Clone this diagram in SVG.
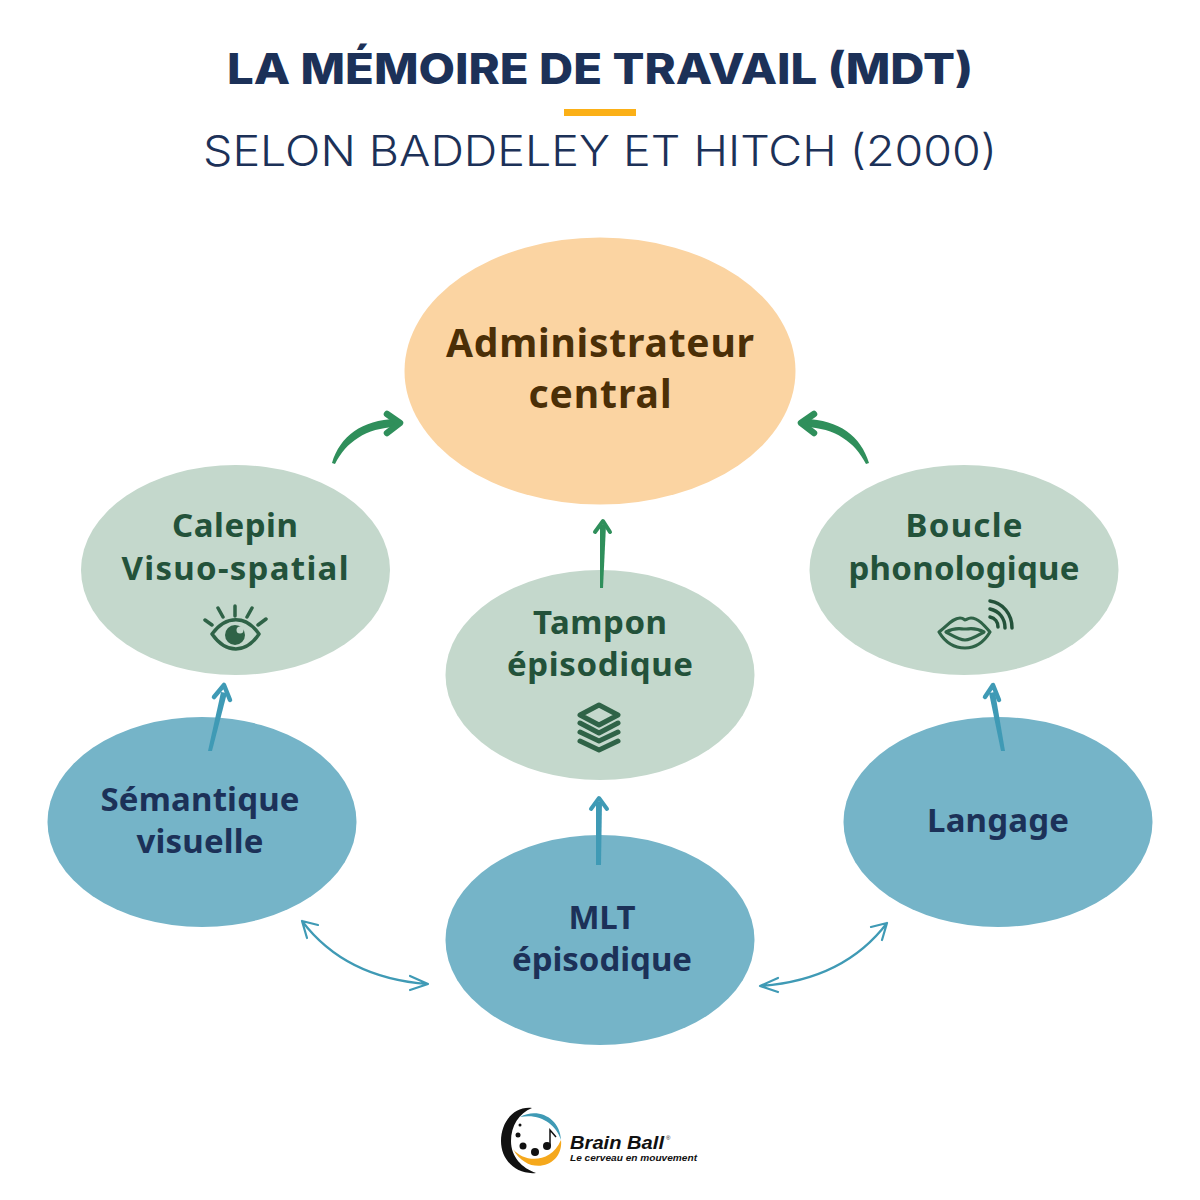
<svg xmlns="http://www.w3.org/2000/svg" width="1200" height="1200" viewBox="0 0 1200 1200">
<style>
.t{font-family:"Inter","Liberation Sans",sans-serif;fill:#1c3158;text-anchor:middle}
.n{font-family:"Noto Sans","Liberation Sans",sans-serif;font-weight:700;font-size:33px;text-anchor:middle}
.g{fill:#c4d8cc}.gt{fill:#23523a}
.b{fill:#75b4c8}.bt{fill:#1c3158}
.ic{fill:none;stroke:#2f6347;stroke-linecap:round;stroke-linejoin:round}
.ga{fill:none;stroke:#2f8f5b;stroke-linecap:round;stroke-linejoin:round}
.gf{fill:#2f8f5b}
.ba{fill:none;stroke:#3f9ab5;stroke-linecap:round;stroke-linejoin:round}
.bf{fill:#3f9ab5}
.l{font-family:"Liberation Sans",sans-serif;font-style:italic;font-weight:700;fill:#111}
</style>
<rect width="1200" height="1200" fill="#fff"/>
<g id="title">
<text class="t" x="600" y="84" font-size="42" font-weight="800" textLength="746" lengthAdjust="spacingAndGlyphs">LA MÉMOIRE DE TRAVAIL (MDT)</text>
<rect x="564" y="109" width="72" height="7" fill="#fbb017"/>
<text class="t" x="600" y="166" font-size="42" font-weight="300" textLength="794" lengthAdjust="spacingAndGlyphs">SELON BADDELEY ET HITCH (2000)</text>
</g>
<g id="admin"><ellipse cx="600" cy="371" rx="195.500" ry="133.500" fill="#fbd4a2"/>
<text class="n" x="600" y="357" fill="#4b2f07" style="font-size:39px" textLength="308">Administrateur</text>
<text class="n" x="600" y="408" fill="#4b2f07" style="font-size:39px" textLength="143">central</text></g>
<g id="calepin"><ellipse class="g" cx="235.500" cy="570" rx="154.500" ry="105"/>
<text class="n gt" x="235" y="537" textLength="126">Calepin</text>
<text class="n gt" x="235" y="580" textLength="227">Visuo-spatial</text>
<path class="ic" stroke-width="3.500" d="M212 634C226 615 246 615 259 634C246 654 226 654 212 634Z"/>
<circle cx="235" cy="635" r="10" fill="#2f6347"/><circle cx="240" cy="630" r="3.500" fill="#c4d8cc"/>
<path class="ic" stroke-width="3.500" d="M205 620L212 625M218 608L223 617M235 606V616M252 608L247 617M266 619L258 625"/></g>
<g id="boucle"><ellipse class="g" cx="964" cy="570" rx="154.500" ry="105"/>
<text class="n gt" x="964" y="537" textLength="117">Boucle</text>
<text class="n gt" x="964" y="580" textLength="231">phonologique</text>
<path class="ic" stroke-width="3.200" d="M939 632C948 625 953 618 960 618C964 618 964 620 965 620C966 620 968 618 971 618C978 618 984 625 990 632C984 642 975 648 965 648C954 648 945 642 939 632Z"/>
<path class="ic" stroke-width="3.200" d="M946 632C955 627 960 629 965 629C970 629 975 627 984 632C975 637 970 640 965 640C960 640 955 637 946 632Z"/>
<path fill="none" stroke="#23523a" stroke-linecap="round" stroke-width="3.500" d="M990 617C995 618 998 622 998 627M990 609C999 611 1005 618 1005 628M990 601C1003 603 1012 614 1012 628"/></g>
<g id="tampon"><ellipse class="g" cx="600" cy="675" rx="154.500" ry="105"/>
<text class="n gt" x="600" y="634" textLength="134">Tampon</text>
<text class="n gt" x="600" y="676" textLength="186">épisodique</text>
<path class="ic" stroke-width="5" d="M599 705L618 715L599 725L580 715Z"/>
<path class="ic" stroke-width="5" d="M580 723L599 733L618 723M580 732L599 741L618 732M580 741L599 750L618 741"/></g>
<g id="semantique"><ellipse class="b" cx="202" cy="822" rx="154.500" ry="105"/>
<text class="n bt" x="200" y="811" textLength="199">Sémantique</text>
<text class="n bt" x="200" y="853" textLength="127">visuelle</text></g>
<g id="langage"><ellipse class="b" cx="998" cy="822" rx="154.500" ry="105"/>
<text class="n bt" x="998" y="832" textLength="142">Langage</text></g>
<g id="mlt"><ellipse class="b" cx="600" cy="940" rx="154.500" ry="105"/>
<text class="n bt" x="602" y="929" textLength="67">MLT</text>
<text class="n bt" x="602" y="971" textLength="180">épisodique</text></g>
<g id="connectors">
<path class="gf" d="M332 463C340 436 362 420 396 419L396 427C366 428 346 442 335 464Z"/>
<path class="ga" stroke-width="6.500" d="M387 414L400 423L387 433"/>
<path class="gf" d="M869 463C861 436 839 420 805 419L805 427C835 428 855 442 866 464Z"/>
<path class="ga" stroke-width="6.500" d="M814 414L801 423L814 433"/>
<path class="gf" d="M600 588L600 525L606 525L603 588Z"/>
<path class="ga" stroke-width="4" d="M595 532L603 521L610 532"/>
<path class="bf" d="M208 751L221 692L227 693L212 751Z"/>
<path class="ba" stroke-width="4.500" d="M214 697L224 685L230 700"/>
<path class="bf" d="M1005 751L995 692L989 693L1001 751Z"/>
<path class="ba" stroke-width="4.500" d="M999 700L993 685L985 697"/>
<path class="bf" d="M596 865L596 802L602 802L601 865Z"/>
<path class="ba" stroke-width="4" d="M591 809L599 798L607 809"/>
<path class="ba" stroke-width="2.200" d="M302 921C330 958 372 980 428 984M318 925L302 921L307 938M410 976L428 984L410 990"/>
<path class="ba" stroke-width="2.200" d="M887 923C859 960 817 982 760 986M871 927L887 923L882 940M778 978L760 986L778 992"/>
</g>
<g id="logo">
<path fill="#111" d="M532 1108C513 1106 501 1123 501 1141C501 1160 516 1175 536 1173C522 1168 511 1157 511 1141C511 1126 519 1113 532 1108Z"/>
<path fill="#3f9ab5" d="M520 1117C538 1107 560 1118 561 1140C556 1124 540 1113 520 1117Z"/>
<path fill="#f5a81c" d="M513 1149C523 1162 550 1165 561 1140C564 1166 529 1178 513 1149Z"/>
<circle cx="520" cy="1125" r="1.500" fill="#111"/><circle cx="518" cy="1135" r="2.500" fill="#111"/><circle cx="523" cy="1146" r="3.500" fill="#111"/><circle cx="535" cy="1152" r="4" fill="#111"/><circle cx="547" cy="1146" r="4" fill="#111"/>
<path fill="none" stroke="#111" stroke-width="1.500" d="M550 1146V1130L556 1137"/>
<text class="l" x="570" y="1149" font-size="19" textLength="94" lengthAdjust="spacingAndGlyphs">Brain Ball</text>
<text x="666" y="1140" font-family="'Liberation Sans',sans-serif" font-size="6" fill="#111">®</text>
<text class="l" x="570" y="1161" font-size="9" textLength="127" lengthAdjust="spacingAndGlyphs">Le cerveau en mouvement</text>
</g>
</svg>
